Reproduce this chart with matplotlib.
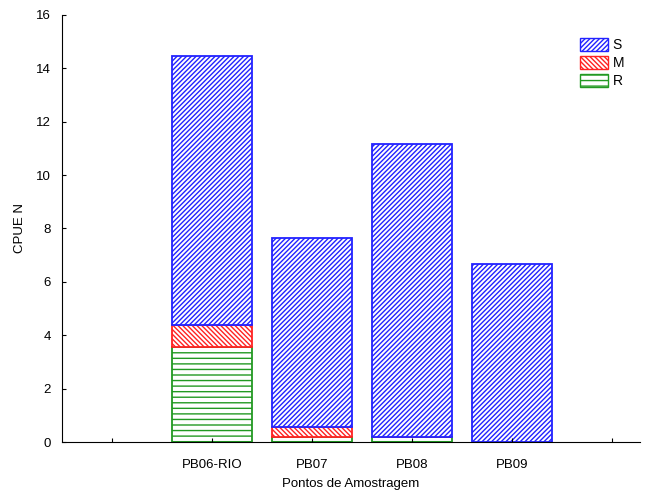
import matplotlib.pyplot as plt
from matplotlib.patches import Patch

plt.rcParams['font.family'] = ['Liberation Sans', 'DejaVu Sans']
plt.rcParams['hatch.linewidth'] = 1.0

# categories (blank slots at both ends, like the original)
pontos = ['', 'PB06-RIO', 'PB07', 'PB08', 'PB09', '']
r_vals = [0, 3.55, 0.18, 0.17, 0.0, 0]
m_vals = [0, 0.83, 0.38, 0.0, 0.0, 0]
s_vals = [0, 10.07, 7.08, 10.99, 6.67, 0]

x = list(range(len(pontos)))
bar_idx = [1, 2, 3, 4]

blue = '#2222ff'
red = '#ff2222'
green = '#229922'
h_s = '/' * 7
h_m = '\\' * 7
h_r = '---'

fig = plt.figure(figsize=(6.52, 4.95), dpi=100)
ax = fig.add_axes([0.095, 0.107, 0.887, 0.863])

xb = [x[i] for i in bar_idx]
r = [r_vals[i] for i in bar_idx]
m = [m_vals[i] for i in bar_idx]
s = [s_vals[i] for i in bar_idx]
rm = [a + b for a, b in zip(r, m)]

ax.bar(xb, r, width=0.8, facecolor='white', edgecolor=green, hatch=h_r, linewidth=1.3)
ax.bar(xb, m, width=0.8, bottom=r, facecolor='white', edgecolor=red, hatch=h_m, linewidth=1.3)
ax.bar(xb, s, width=0.8, bottom=rm, facecolor='white', edgecolor=blue, hatch=h_s, linewidth=1.3)

ax.set_xlim(-0.5, 5.28)
ax.set_ylim(0, 16)
ax.set_xticks(x)
ax.set_xticklabels(pontos)
ax.set_yticks(range(0, 17, 2))
ax.tick_params(axis='both', direction='in', length=3, labelsize=9.5, width=0.8)
ax.tick_params(axis='x', pad=12)
ax.tick_params(axis='y', pad=8)
ax.spines['top'].set_visible(False)
ax.spines['right'].set_visible(False)

ax.set_xlabel('Pontos de Amostragem', fontsize=9.5, labelpad=5)
ax.set_ylabel('CPUE N', fontsize=9.5, labelpad=7)

handles = [Patch(facecolor='white', edgecolor=blue, hatch=h_s, label='S'),
           Patch(facecolor='white', edgecolor=red, hatch=h_m, label='M'),
           Patch(facecolor='white', edgecolor=green, hatch=h_r, label='R')]
ax.legend(handles=handles, loc='upper left', bbox_to_anchor=(0.875, 0.975), frameon=False,
          fontsize=10, handlelength=2.0, handleheight=1.1, labelspacing=0.25, handletextpad=0.3)

fig.savefig('out.png', dpi=100)
